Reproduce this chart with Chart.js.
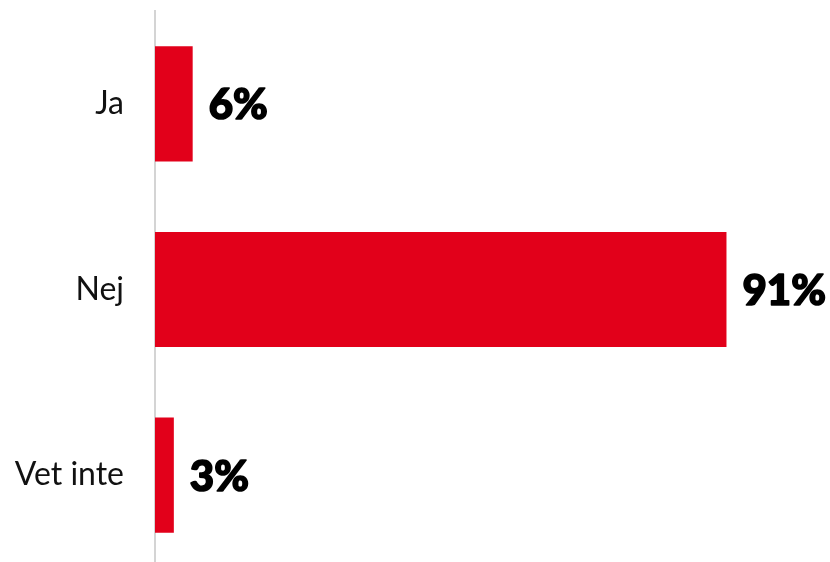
<!DOCTYPE html>
<html>
<head>
<meta charset="utf-8">
<script src="https://cdn.jsdelivr.net/npm/chart.js@4"></script>
<style>
  html, body { margin: 0; padding: 0; background: #fff; overflow: hidden; }
  #wrap { width: 830px; height: 568px; position: relative; }
</style>
</head>
<body>
<div id="wrap"><canvas id="answersChart"></canvas></div>
<script>
const categories = ["Ja", "Nej", "Vet inte"]
const shares = [6, 91, 3]
const valueLabels = ["6%", "91%", "3%"]

const barRed = "#e2001a"

// write the percent text just right of each bar
// (a thin stroke makes the bold face look like the black weight)
const valueText = {
    id: "valueText",
    afterDatasetsDraw(chart) {
        const c = chart.ctx
        const bars = chart.getDatasetMeta(0).data
        c.save()
        c.font = "900 42px Lato"
        c.fillStyle = "#000"
        c.strokeStyle = "#000"
        c.lineWidth = 1.6
        c.lineJoin = "round"
        c.textAlign = "left"
        c.textBaseline = "middle"
        bars.forEach((bar, i) => {
            c.fillText(valueLabels[i], bar.x + 16, bar.y + 2)
            c.strokeText(valueLabels[i], bar.x + 16, bar.y + 2)
        })
        c.restore()
    }
}

const ctx = document.getElementById("answersChart")

new Chart(ctx, {
    type: "bar",
    data: {
        labels: categories,
        datasets: [{
            data: shares,
            backgroundColor: barRed,
            borderWidth: 0,
            categoryPercentage: 1,
            barPercentage: 0.62
        }]
    },
    options: {
        indexAxis: "y",
        responsive: true,
        maintainAspectRatio: false,
        animation: false,
        layout: { padding: { top: 11, right: 47, bottom: 0, left: 0 } },
        plugins: {
            legend: { display: false },
            tooltip: { enabled: false }
        },
        scales: {
            x: {
                display: false,
                min: 0,
                max: 100
            },
            y: {
                afterFit(scale) {
                    scale.width = 155
                    scale.paddingTop = 0
                    scale.paddingBottom = 0
                },
                grid: { display: false, drawTicks: false },
                border: { display: true, color: "#d4d4d4", width: 2 },
                ticks: {
                    padding: 31,
                    color: "#111",
                    font: { family: "Lato", size: 32 }
                }
            }
        }
    },
    plugins: [valueText]
})
</script>
</body>
</html>
